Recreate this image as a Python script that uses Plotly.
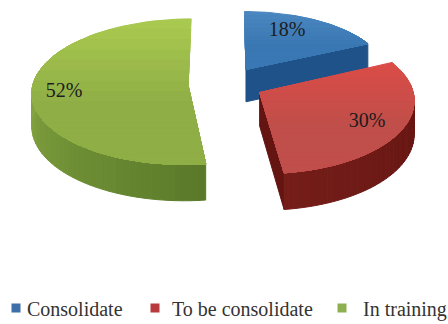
import math
import plotly.graph_objects as go

# Chart data
categories = ["Consolidate", "To be consolidate", "In training"]
shares = [18, 30, 52]

# Per-slice colours: top face (back edge, front edge), wall (start, end of the sweep)
top_back = ["#4a86bf", "#d94c47", "#a8c850"]
top_front = ["#3a78b4", "#c04e4a", "#8fae46"]
wall_a = ["#1f5288", "#641512", "#86a642"]
wall_b = ["#1f4f82", "#741d19", "#5a7a2a"]
marker_colors = ["#3f6fa8", "#b83a3c", "#8fb050"]

# Projection of the tilted disc onto the page, in pixels
CX, CY = 226, 84
RX, RY = 155, 72
TILT = 0.09
PULL = 0.245
DEPTH = 33
STEPS = 60
# The far slice is foreshortened more strongly than the tilt alone gives
slice_scale = [(0.92, 0.9), (0.98, 1.0), (1.0, 1.0)]

label_xy = [(287, 31), (367, 122), (64, 92)]
legend_swatch_x = [16, 155, 342]
legend_text_x = [27, 172, 363]
LEGEND_Y = 311


def hex_mix(c1, c2, t):
    a = [int(c1[i:i + 2], 16) for i in (1, 3, 5)]
    b = [int(c2[i:i + 2], 16) for i in (1, 3, 5)]
    return "#" + "".join(f"{round(p + (q - p) * t):02x}" for p, q in zip(a, b))


def project(u, v, drop=0.0):
    w = 1 + TILT * v
    return CX + RX * u / w, CY + (drop - RY * v) / w


def clip_below(poly, y0):
    # Keep the part of a polygon lying below the horizontal line y = y0
    out = []
    for i, p in enumerate(poly):
        q = poly[(i + 1) % len(poly)]
        if p[1] >= y0:
            out.append(p)
        if (p[1] >= y0) != (q[1] >= y0):
            t = (y0 - p[1]) / (q[1] - p[1])
            out.append((p[0] + (q[0] - p[0]) * t, y0))
    return out


fig = go.Figure()


def add_poly(poly, color):
    fig.add_trace(go.Scatter(
        x=[p[0] for p in poly] + [poly[0][0]],
        y=[p[1] for p in poly] + [poly[0][1]],
        mode="lines", fill="toself", fillcolor=color,
        line=dict(color=color, width=1),
        hoverinfo="skip", showlegend=False,
    ))


total = sum(shares)
start = 0.0
for i, share in enumerate(shares):
    sweep = 2 * math.pi * share / total
    end = start + sweep
    mid = start + sweep / 2
    ou, ov = PULL * math.sin(mid), PULL * math.cos(mid)
    sx, sy = slice_scale[i]

    def rim(theta, drop=0.0):
        return project(ou + sx * math.sin(theta), ov + sy * math.cos(theta), drop)

    apex = project(ou, ov)
    apex_low = project(ou, ov, DEPTH)

    # Straight cut walls that face the viewer
    if math.sin(end) > 1e-6:
        add_poly([apex, rim(end), rim(end, DEPTH), apex_low], wall_a[i])
    if math.sin(start) < -1e-6:
        add_poly([apex, rim(start), rim(start, DEPTH), apex_low], wall_a[i])

    # Curved outer wall, drawn as narrow strips with a changing shade
    lo, hi = max(start, math.pi / 2 - 0.12), min(end, 1.5 * math.pi + 0.12)
    strips = 40 if hi > lo else 0
    for k in range(strips):
        t0 = lo + (hi - lo) * k / strips
        t1 = lo + (hi - lo) * (k + 1) / strips
        shade = 1 - k / (strips - 1) if i == 2 else k / (strips - 1)
        add_poly([rim(t0), rim(t1), rim(t1, DEPTH), rim(t0, DEPTH)],
                 hex_mix(wall_a[i], wall_b[i], shade))

    # Top face, shaded in horizontal bands from back to front
    face = [apex] + [rim(start + sweep * k / STEPS) for k in range(STEPS + 1)]
    ys = [p[1] for p in face]
    bands = 14
    for k in range(bands):
        y0 = min(ys) + (max(ys) - min(ys)) * k / bands
        part = clip_below(face, y0) if k else face
        if len(part) > 2:
            add_poly(part, hex_mix(top_back[i], top_front[i], min(1, k / (bands * 0.55))))
    start = end

# Percentage labels on the slices
fig.add_trace(go.Scatter(
    x=[p[0] for p in label_xy], y=[p[1] for p in label_xy],
    mode="text", text=[f"{s}%" for s in shares],
    textfont=dict(family="Liberation Serif", size=20, color="#1c1c1c"),
    textposition="middle center", hoverinfo="skip", showlegend=False,
))

# Legend row
fig.add_trace(go.Scatter(
    x=legend_swatch_x, y=[LEGEND_Y - 3] * 3, mode="markers",
    marker=dict(symbol="square", size=9, color=marker_colors),
    hoverinfo="skip", showlegend=False,
))
fig.add_trace(go.Scatter(
    x=legend_text_x, y=[LEGEND_Y] * 3, mode="text", text=categories,
    textposition="middle right",
    textfont=dict(family="Liberation Serif", size=20, color="#333333"),
    hoverinfo="skip", showlegend=False,
))

fig.update_layout(
    width=448, height=324, autosize=False,
    margin=dict(l=0, r=0, t=0, b=0),
    paper_bgcolor="white", plot_bgcolor="white",
    xaxis=dict(range=[0, 448], visible=False, fixedrange=True),
    yaxis=dict(range=[324, 0], visible=False, fixedrange=True),
)
fig.write_html("out.html", config={"displayModeBar": False})
